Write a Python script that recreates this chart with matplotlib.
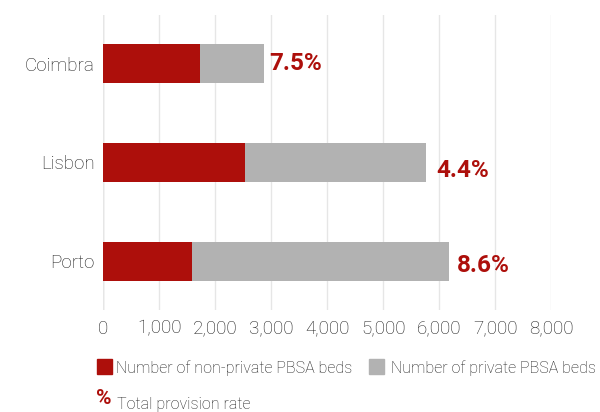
import matplotlib
matplotlib.use("Agg")
import matplotlib.pyplot as plt
from matplotlib.patches import Rectangle

plt.rcParams['font.family'] = ['Roboto', 'DejaVu Sans']

# Beds per city
cities = ['Coimbra', 'Lisbon', 'Porto']
non_private = [1730, 2530, 1585]
private = [1140, 3230, 4590]
provision = ['7.5%', '4.4%', '8.6%']
xticks = [0, 1000, 2000, 3000, 4000, 5000, 6000, 7000, 8000]

red = '#ad0f0b'
grey = '#b2b2b2'
txt = '#1e1e1e'

fig = plt.figure(figsize=(6, 4.12), dpi=100)
ax = fig.add_axes([0.1722, 0.2476, 0.7467, 0.716])

y = list(range(len(cities)))
ax.barh(y, non_private, height=0.4, color=red, zorder=3)
ax.barh(y, private, left=non_private, height=0.4, color=grey, zorder=3)

# rate labels to the right of each stack
dx = [100, 190, 140]
dy = [0.0, 0.08, 0.04]
for i in y:
    total = non_private[i] + private[i]
    ax.text(total + dx[i], i + dy[i], provision[i], color=red, fontsize=17.5,
            fontweight='bold', va='center', ha='left', clip_on=False)

ax.set_xlim(0, 8000)
ax.set_ylim(2.49, -0.49)
ax.set_yticks(y)
ax.set_yticklabels(cities, fontweight='light')
ax.set_xticks(xticks)
ax.set_xticklabels(['{:,}'.format(v) for v in xticks], fontweight='light')
ax.tick_params(axis='both', length=0, labelsize=13.5, labelcolor=txt)
ax.tick_params(axis='y', pad=6)
ax.tick_params(axis='x', pad=7)
ax.grid(axis='x', color='#e6e6e6', linewidth=1, zorder=0)
ax.axvline(0, color='#cccccc', linewidth=1, zorder=1)
for s in ax.spines.values():
    s.set_visible(False)

# legend row
fig.patches.append(Rectangle((97 / 600, 1 - 374 / 412), 15 / 600, 15 / 412,
                             transform=fig.transFigure, color=red))
fig.text(116 / 600, 1 - 368 / 412, 'Number of non-private PBSA beds',
         fontsize=11.5, fontweight='light', color=txt, va='center')
fig.patches.append(Rectangle((369 / 600, 1 - 374 / 412), 15 / 600, 15 / 412,
                             transform=fig.transFigure, color=grey))
fig.text(391 / 600, 1 - 368 / 412, 'Number of private PBSA beds',
         fontsize=11.5, fontweight='light', color=txt, va='center')
fig.text(96 / 600, 1 - 399 / 412, '%', fontsize=15, fontweight='bold',
         color=red, va='center')
fig.text(117 / 600, 1 - 404 / 412, 'Total provision rate',
         fontsize=11.5, fontweight='light', color=txt, va='center')

fig.savefig('out.png', dpi=100)
